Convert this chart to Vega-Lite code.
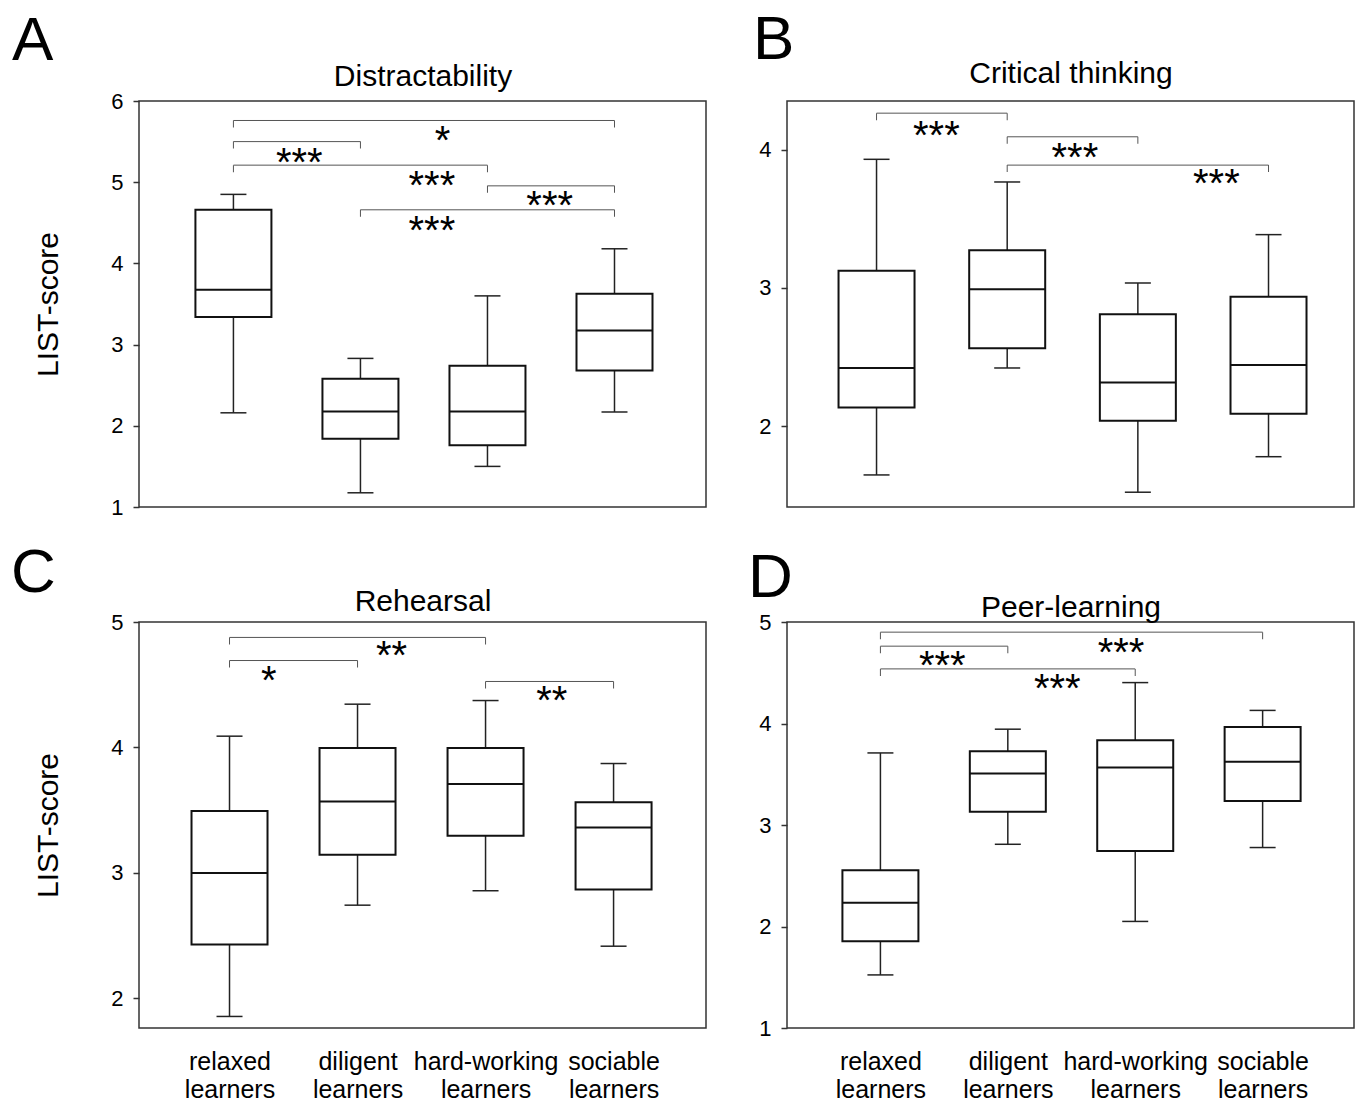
{
  "$schema": "https://vega.github.io/schema/vega-lite/v6.json",
  "padding": {"left": 10, "top": 8, "right": 5, "bottom": 0},
  "bounds": "flush",
  "columns": 2,
  "spacing": {"row": 115, "column": 81},
  "datasets": {
    "boxes": [
      {"panel": "A", "group": 1, "name": "relaxed learners", "lo": 2.16, "q1": 3.34, "med": 3.675, "q3": 4.66, "hi": 4.85},
      {"panel": "A", "group": 2, "name": "diligent learners", "lo": 1.175, "q1": 1.84, "med": 2.175, "q3": 2.58, "hi": 2.83},
      {"panel": "A", "group": 3, "name": "hard-working learners", "lo": 1.5, "q1": 1.76, "med": 2.175, "q3": 2.74, "hi": 3.6},
      {"panel": "A", "group": 4, "name": "sociable learners", "lo": 2.17, "q1": 2.68, "med": 3.175, "q3": 3.625, "hi": 4.18},
      {"panel": "B", "group": 1, "name": "relaxed learners", "lo": 1.646, "q1": 2.134, "med": 2.42, "q3": 3.123, "hi": 3.93},
      {"panel": "B", "group": 2, "name": "diligent learners", "lo": 2.42, "q1": 2.562, "med": 2.989, "q3": 3.272, "hi": 3.766},
      {"panel": "B", "group": 3, "name": "hard-working learners", "lo": 1.521, "q1": 2.039, "med": 2.315, "q3": 2.808, "hi": 3.035},
      {"panel": "B", "group": 4, "name": "sociable learners", "lo": 1.778, "q1": 2.088, "med": 2.442, "q3": 2.935, "hi": 3.385},
      {"panel": "C", "group": 1, "name": "relaxed learners", "lo": 1.856, "q1": 2.43, "med": 3.0, "q3": 3.493, "hi": 4.09},
      {"panel": "C", "group": 2, "name": "diligent learners", "lo": 2.743, "q1": 3.145, "med": 3.57, "q3": 3.995, "hi": 4.345},
      {"panel": "C", "group": 3, "name": "hard-working learners", "lo": 2.858, "q1": 3.297, "med": 3.708, "q3": 3.995, "hi": 4.374},
      {"panel": "C", "group": 4, "name": "sociable learners", "lo": 2.416, "q1": 2.867, "med": 3.363, "q3": 3.564, "hi": 3.872},
      {"panel": "D", "group": 1, "name": "relaxed learners", "lo": 1.523, "q1": 1.854, "med": 2.234, "q3": 2.554, "hi": 3.71},
      {"panel": "D", "group": 2, "name": "diligent learners", "lo": 2.81, "q1": 3.13, "med": 3.507, "q3": 3.727, "hi": 3.944},
      {"panel": "D", "group": 3, "name": "hard-working learners", "lo": 2.05, "q1": 2.743, "med": 3.567, "q3": 3.834, "hi": 4.403},
      {"panel": "D", "group": 4, "name": "sociable learners", "lo": 2.778, "q1": 3.237, "med": 3.624, "q3": 3.966, "hi": 4.129}
    ],
    "brackets": [
      {"panel": "A", "from": 1, "to": 4, "level": 5.76},
      {"panel": "A", "from": 1, "to": 2, "level": 5.5},
      {"panel": "A", "from": 1, "to": 3, "level": 5.21},
      {"panel": "A", "from": 3, "to": 4, "level": 4.955},
      {"panel": "A", "from": 2, "to": 4, "level": 4.66},
      {"panel": "B", "from": 1, "to": 2, "level": 4.264},
      {"panel": "B", "from": 2, "to": 3, "level": 4.093},
      {"panel": "B", "from": 2, "to": 4, "level": 3.888},
      {"panel": "C", "from": 1, "to": 3, "level": 4.877},
      {"panel": "C", "from": 1, "to": 2, "level": 4.693},
      {"panel": "C", "from": 3, "to": 4, "level": 4.526},
      {"panel": "D", "from": 1, "to": 4, "level": 4.9},
      {"panel": "D", "from": 1, "to": 2, "level": 4.762},
      {"panel": "D", "from": 1, "to": 3, "level": 4.538}
    ],
    "stars": [
      {"panel": "A", "sx": 2.647, "sy": 5.6, "label": "*"},
      {"panel": "A", "sx": 1.518, "sy": 5.33, "label": "***"},
      {"panel": "A", "sx": 2.562, "sy": 5.05, "label": "***"},
      {"panel": "A", "sx": 3.49, "sy": 4.8, "label": "***"},
      {"panel": "A", "sx": 2.562, "sy": 4.5, "label": "***"},
      {"panel": "B", "sx": 1.458, "sy": 4.154, "label": "***"},
      {"panel": "B", "sx": 2.518, "sy": 3.995, "label": "***"},
      {"panel": "B", "sx": 3.601, "sy": 3.807, "label": "***"},
      {"panel": "C", "sx": 2.266, "sy": 4.79, "label": "**"},
      {"panel": "C", "sx": 1.307, "sy": 4.59, "label": "*"},
      {"panel": "C", "sx": 3.517, "sy": 4.434, "label": "**"},
      {"panel": "D", "sx": 1.486, "sy": 4.645, "label": "***"},
      {"panel": "D", "sx": 2.889, "sy": 4.77, "label": "***"},
      {"panel": "D", "sx": 2.388, "sy": 4.42, "label": "***"}
    ]
  },
  "concat": [
    {
      "width": 567, "height": 406,
      "title": {"text": "A", "dx": -127, "offset": -12},
      "resolve": {"axis": {"x": "independent", "y": "independent"}},
      "layer": [
        {"data": {"name": "boxes"}, "transform": [{"filter": "datum.panel == 'A'"}],
         "mark": {"type": "rule", "color": "#222", "strokeWidth": 1.5},
         "encoding": {
           "x": {"field": "group", "type": "quantitative", "scale": {"domain": [0.296, 4.681], "nice": false, "zero": false}, "axis": null},
           "y": {"field": "lo", "type": "quantitative", "scale": {"domain": [1, 6], "nice": false, "zero": false}, "axis": {"values": [1, 2, 3, 4, 5, 6], "title": "LIST-score", "labelFontSize": 22}},
           "y2": {"field": "hi"}}},
        {"data": {"name": "boxes"}, "transform": [{"filter": "datum.panel == 'A'"}],
         "mark": {"type": "tick", "orient": "horizontal", "size": 26, "thickness": 1.5, "color": "#222", "opacity": 1},
         "encoding": {
           "x": {"field": "group", "type": "quantitative", "scale": {"domain": [0.296, 4.681], "nice": false, "zero": false}, "axis": null},
           "y": {"field": "lo", "type": "quantitative", "scale": {"domain": [1, 6], "nice": false, "zero": false}, "axis": null}}},
        {"data": {"name": "boxes"}, "transform": [{"filter": "datum.panel == 'A'"}],
         "mark": {"type": "tick", "orient": "horizontal", "size": 26, "thickness": 1.5, "color": "#222", "opacity": 1},
         "encoding": {
           "x": {"field": "group", "type": "quantitative", "scale": {"domain": [0.296, 4.681], "nice": false, "zero": false}, "axis": null},
           "y": {"field": "hi", "type": "quantitative", "scale": {"domain": [1, 6], "nice": false, "zero": false}, "axis": null}}},
        {"data": {"name": "boxes"}, "transform": [{"filter": "datum.panel == 'A'"}],
         "mark": {"type": "bar", "width": 76, "fill": "white", "stroke": "#111", "strokeWidth": 2},
         "encoding": {
           "x": {"field": "group", "type": "quantitative", "scale": {"domain": [0.296, 4.681], "nice": false, "zero": false}, "axis": null},
           "y": {"field": "q1", "type": "quantitative", "scale": {"domain": [1, 6], "nice": false, "zero": false}, "axis": null},
           "y2": {"field": "q3"}}},
        {"data": {"name": "boxes"}, "transform": [{"filter": "datum.panel == 'A'"}],
         "mark": {"type": "tick", "orient": "horizontal", "size": 76, "thickness": 2, "color": "#111", "opacity": 1},
         "encoding": {
           "x": {"field": "group", "type": "quantitative", "scale": {"domain": [0.296, 4.681], "nice": false, "zero": false},
                 "axis": {"orient": "top", "title": "Distractability", "labels": false, "ticks": false, "domain": false, "titlePadding": 10, "titleFontSize": 30}},
           "y": {"field": "med", "type": "quantitative", "scale": {"domain": [1, 6], "nice": false, "zero": false}, "axis": null}}},
        {"data": {"name": "brackets"}, "transform": [{"filter": "datum.panel == 'A'"}],
         "mark": {"type": "rule", "color": "#555", "strokeWidth": 1},
         "encoding": {
           "x": {"field": "from", "type": "quantitative", "scale": {"domain": [0.296, 4.681], "nice": false, "zero": false}, "axis": null},
           "x2": {"field": "to"},
           "y": {"field": "level", "type": "quantitative", "scale": {"domain": [1, 6], "nice": false, "zero": false}, "axis": null}}},
        {"data": {"name": "brackets"}, "transform": [{"filter": "datum.panel == 'A'"}],
         "mark": {"type": "tick", "orient": "vertical", "size": 7, "thickness": 1, "color": "#555", "opacity": 1, "yOffset": 3.5},
         "encoding": {
           "x": {"field": "from", "type": "quantitative", "scale": {"domain": [0.296, 4.681], "nice": false, "zero": false}, "axis": null},
           "y": {"field": "level", "type": "quantitative", "scale": {"domain": [1, 6], "nice": false, "zero": false}, "axis": null}}},
        {"data": {"name": "brackets"}, "transform": [{"filter": "datum.panel == 'A'"}],
         "mark": {"type": "tick", "orient": "vertical", "size": 7, "thickness": 1, "color": "#555", "opacity": 1, "yOffset": 3.5},
         "encoding": {
           "x": {"field": "to", "type": "quantitative", "scale": {"domain": [0.296, 4.681], "nice": false, "zero": false}, "axis": null},
           "y": {"field": "level", "type": "quantitative", "scale": {"domain": [1, 6], "nice": false, "zero": false}, "axis": null}}},
        {"data": {"name": "stars"}, "transform": [{"filter": "datum.panel == 'A'"}],
         "mark": {"type": "text", "fontSize": 40, "font": "Liberation Sans", "baseline": "alphabetic", "align": "center", "dy": 21, "color": "#000"},
         "encoding": {
           "x": {"field": "sx", "type": "quantitative", "scale": {"domain": [0.296, 4.681], "nice": false, "zero": false}, "axis": null},
           "y": {"field": "sy", "type": "quantitative", "scale": {"domain": [1, 6], "nice": false, "zero": false}, "axis": null},
           "text": {"field": "label"}}}
      ]
    },
    {
      "width": 567, "height": 406,
      "title": {"text": "B", "dx": -34, "offset": -14},
      "resolve": {"axis": {"x": "independent", "y": "independent"}},
      "layer": [
        {"data": {"name": "boxes"}, "transform": [{"filter": "datum.panel == 'B'"}],
         "mark": {"type": "rule", "color": "#222", "strokeWidth": 1.5},
         "encoding": {
           "x": {"field": "group", "type": "quantitative", "scale": {"domain": [0.353, 4.616], "nice": false, "zero": false}, "axis": null},
           "y": {"field": "lo", "type": "quantitative", "scale": {"domain": [1.414, 4.352], "nice": false, "zero": false}, "axis": {"values": [2, 3, 4], "title": null, "labelFontSize": 22}},
           "y2": {"field": "hi"}}},
        {"data": {"name": "boxes"}, "transform": [{"filter": "datum.panel == 'B'"}],
         "mark": {"type": "tick", "orient": "horizontal", "size": 26, "thickness": 1.5, "color": "#222", "opacity": 1},
         "encoding": {
           "x": {"field": "group", "type": "quantitative", "scale": {"domain": [0.353, 4.616], "nice": false, "zero": false}, "axis": null},
           "y": {"field": "lo", "type": "quantitative", "scale": {"domain": [1.414, 4.352], "nice": false, "zero": false}, "axis": null}}},
        {"data": {"name": "boxes"}, "transform": [{"filter": "datum.panel == 'B'"}],
         "mark": {"type": "tick", "orient": "horizontal", "size": 26, "thickness": 1.5, "color": "#222", "opacity": 1},
         "encoding": {
           "x": {"field": "group", "type": "quantitative", "scale": {"domain": [0.353, 4.616], "nice": false, "zero": false}, "axis": null},
           "y": {"field": "hi", "type": "quantitative", "scale": {"domain": [1.414, 4.352], "nice": false, "zero": false}, "axis": null}}},
        {"data": {"name": "boxes"}, "transform": [{"filter": "datum.panel == 'B'"}],
         "mark": {"type": "bar", "width": 76, "fill": "white", "stroke": "#111", "strokeWidth": 2},
         "encoding": {
           "x": {"field": "group", "type": "quantitative", "scale": {"domain": [0.353, 4.616], "nice": false, "zero": false}, "axis": null},
           "y": {"field": "q1", "type": "quantitative", "scale": {"domain": [1.414, 4.352], "nice": false, "zero": false}, "axis": null},
           "y2": {"field": "q3"}}},
        {"data": {"name": "boxes"}, "transform": [{"filter": "datum.panel == 'B'"}],
         "mark": {"type": "tick", "orient": "horizontal", "size": 76, "thickness": 2, "color": "#111", "opacity": 1},
         "encoding": {
           "x": {"field": "group", "type": "quantitative", "scale": {"domain": [0.353, 4.616], "nice": false, "zero": false},
                 "axis": {"orient": "top", "title": "Critical thinking", "labels": false, "ticks": false, "domain": false, "titlePadding": 13, "titleFontSize": 30}},
           "y": {"field": "med", "type": "quantitative", "scale": {"domain": [1.414, 4.352], "nice": false, "zero": false}, "axis": null}}},
        {"data": {"name": "brackets"}, "transform": [{"filter": "datum.panel == 'B'"}],
         "mark": {"type": "rule", "color": "#555", "strokeWidth": 1},
         "encoding": {
           "x": {"field": "from", "type": "quantitative", "scale": {"domain": [0.353, 4.616], "nice": false, "zero": false}, "axis": null},
           "x2": {"field": "to"},
           "y": {"field": "level", "type": "quantitative", "scale": {"domain": [1.414, 4.352], "nice": false, "zero": false}, "axis": null}}},
        {"data": {"name": "brackets"}, "transform": [{"filter": "datum.panel == 'B'"}],
         "mark": {"type": "tick", "orient": "vertical", "size": 7, "thickness": 1, "color": "#555", "opacity": 1, "yOffset": 3.5},
         "encoding": {
           "x": {"field": "from", "type": "quantitative", "scale": {"domain": [0.353, 4.616], "nice": false, "zero": false}, "axis": null},
           "y": {"field": "level", "type": "quantitative", "scale": {"domain": [1.414, 4.352], "nice": false, "zero": false}, "axis": null}}},
        {"data": {"name": "brackets"}, "transform": [{"filter": "datum.panel == 'B'"}],
         "mark": {"type": "tick", "orient": "vertical", "size": 7, "thickness": 1, "color": "#555", "opacity": 1, "yOffset": 3.5},
         "encoding": {
           "x": {"field": "to", "type": "quantitative", "scale": {"domain": [0.353, 4.616], "nice": false, "zero": false}, "axis": null},
           "y": {"field": "level", "type": "quantitative", "scale": {"domain": [1.414, 4.352], "nice": false, "zero": false}, "axis": null}}},
        {"data": {"name": "stars"}, "transform": [{"filter": "datum.panel == 'B'"}],
         "mark": {"type": "text", "fontSize": 40, "font": "Liberation Sans", "baseline": "alphabetic", "align": "center", "dy": 21, "color": "#000"},
         "encoding": {
           "x": {"field": "sx", "type": "quantitative", "scale": {"domain": [0.353, 4.616], "nice": false, "zero": false}, "axis": null},
           "y": {"field": "sy", "type": "quantitative", "scale": {"domain": [1.414, 4.352], "nice": false, "zero": false}, "axis": null},
           "text": {"field": "label"}}}
      ]
    },
    {
      "width": 567, "height": 406,
      "title": {"text": "C", "dx": -128, "offset": -19},
      "resolve": {"axis": {"x": "independent", "y": "independent"}},
      "layer": [
        {"data": {"name": "boxes"}, "transform": [{"filter": "datum.panel == 'C'"}],
         "mark": {"type": "rule", "color": "#222", "strokeWidth": 1.5},
         "encoding": {
           "x": {"field": "group", "type": "quantitative", "scale": {"domain": [0.332, 4.683], "nice": false, "zero": false},
                 "axis": {"values": [1, 2, 3, 4], "title": null, "ticks": false, "domain": false, "labelFlush": false, "labelOverlap": false, "labelFontSize": 25, "labelLineHeight": 28.5, "labelPadding": 21,
                          "labelExpr": "split(['', 'relaxed learners', 'diligent learners', 'hard-working learners', 'sociable learners'][datum.value], ' ')"}},
           "y": {"field": "lo", "type": "quantitative", "scale": {"domain": [1.764, 5], "nice": false, "zero": false}, "axis": {"values": [2, 3, 4, 5], "title": "LIST-score", "labelFontSize": 22}},
           "y2": {"field": "hi"}}},
        {"data": {"name": "boxes"}, "transform": [{"filter": "datum.panel == 'C'"}],
         "mark": {"type": "tick", "orient": "horizontal", "size": 26, "thickness": 1.5, "color": "#222", "opacity": 1},
         "encoding": {
           "x": {"field": "group", "type": "quantitative", "scale": {"domain": [0.332, 4.683], "nice": false, "zero": false}, "axis": null},
           "y": {"field": "lo", "type": "quantitative", "scale": {"domain": [1.764, 5], "nice": false, "zero": false}, "axis": null}}},
        {"data": {"name": "boxes"}, "transform": [{"filter": "datum.panel == 'C'"}],
         "mark": {"type": "tick", "orient": "horizontal", "size": 26, "thickness": 1.5, "color": "#222", "opacity": 1},
         "encoding": {
           "x": {"field": "group", "type": "quantitative", "scale": {"domain": [0.332, 4.683], "nice": false, "zero": false}, "axis": null},
           "y": {"field": "hi", "type": "quantitative", "scale": {"domain": [1.764, 5], "nice": false, "zero": false}, "axis": null}}},
        {"data": {"name": "boxes"}, "transform": [{"filter": "datum.panel == 'C'"}],
         "mark": {"type": "bar", "width": 76, "fill": "white", "stroke": "#111", "strokeWidth": 2},
         "encoding": {
           "x": {"field": "group", "type": "quantitative", "scale": {"domain": [0.332, 4.683], "nice": false, "zero": false}, "axis": null},
           "y": {"field": "q1", "type": "quantitative", "scale": {"domain": [1.764, 5], "nice": false, "zero": false}, "axis": null},
           "y2": {"field": "q3"}}},
        {"data": {"name": "boxes"}, "transform": [{"filter": "datum.panel == 'C'"}],
         "mark": {"type": "tick", "orient": "horizontal", "size": 76, "thickness": 2, "color": "#111", "opacity": 1},
         "encoding": {
           "x": {"field": "group", "type": "quantitative", "scale": {"domain": [0.332, 4.683], "nice": false, "zero": false},
                 "axis": {"orient": "top", "title": "Rehearsal", "labels": false, "ticks": false, "domain": false, "titlePadding": 6, "titleFontSize": 30}},
           "y": {"field": "med", "type": "quantitative", "scale": {"domain": [1.764, 5], "nice": false, "zero": false}, "axis": null}}},
        {"data": {"name": "brackets"}, "transform": [{"filter": "datum.panel == 'C'"}],
         "mark": {"type": "rule", "color": "#555", "strokeWidth": 1},
         "encoding": {
           "x": {"field": "from", "type": "quantitative", "scale": {"domain": [0.332, 4.683], "nice": false, "zero": false}, "axis": null},
           "x2": {"field": "to"},
           "y": {"field": "level", "type": "quantitative", "scale": {"domain": [1.764, 5], "nice": false, "zero": false}, "axis": null}}},
        {"data": {"name": "brackets"}, "transform": [{"filter": "datum.panel == 'C'"}],
         "mark": {"type": "tick", "orient": "vertical", "size": 7, "thickness": 1, "color": "#555", "opacity": 1, "yOffset": 3.5},
         "encoding": {
           "x": {"field": "from", "type": "quantitative", "scale": {"domain": [0.332, 4.683], "nice": false, "zero": false}, "axis": null},
           "y": {"field": "level", "type": "quantitative", "scale": {"domain": [1.764, 5], "nice": false, "zero": false}, "axis": null}}},
        {"data": {"name": "brackets"}, "transform": [{"filter": "datum.panel == 'C'"}],
         "mark": {"type": "tick", "orient": "vertical", "size": 7, "thickness": 1, "color": "#555", "opacity": 1, "yOffset": 3.5},
         "encoding": {
           "x": {"field": "to", "type": "quantitative", "scale": {"domain": [0.332, 4.683], "nice": false, "zero": false}, "axis": null},
           "y": {"field": "level", "type": "quantitative", "scale": {"domain": [1.764, 5], "nice": false, "zero": false}, "axis": null}}},
        {"data": {"name": "stars"}, "transform": [{"filter": "datum.panel == 'C'"}],
         "mark": {"type": "text", "fontSize": 40, "font": "Liberation Sans", "baseline": "alphabetic", "align": "center", "dy": 21, "color": "#000"},
         "encoding": {
           "x": {"field": "sx", "type": "quantitative", "scale": {"domain": [0.332, 4.683], "nice": false, "zero": false}, "axis": null},
           "y": {"field": "sy", "type": "quantitative", "scale": {"domain": [1.764, 5], "nice": false, "zero": false}, "axis": null},
           "text": {"field": "label"}}}
      ]
    },
    {
      "width": 567, "height": 406,
      "title": {"text": "D", "dx": -39, "offset": -18},
      "resolve": {"axis": {"x": "independent", "y": "independent"}},
      "layer": [
        {"data": {"name": "boxes"}, "transform": [{"filter": "datum.panel == 'D'"}],
         "mark": {"type": "rule", "color": "#222", "strokeWidth": 1.5},
         "encoding": {
           "x": {"field": "group", "type": "quantitative", "scale": {"domain": [0.306, 4.678], "nice": false, "zero": false},
                 "axis": {"values": [1, 2, 3, 4], "title": null, "ticks": false, "domain": false, "labelFlush": false, "labelOverlap": false, "labelFontSize": 25, "labelLineHeight": 28.5, "labelPadding": 21,
                          "labelExpr": "split(['', 'relaxed learners', 'diligent learners', 'hard-working learners', 'sociable learners'][datum.value], ' ')"}},
           "y": {"field": "lo", "type": "quantitative", "scale": {"domain": [1, 5], "nice": false, "zero": false}, "axis": {"values": [1, 2, 3, 4, 5], "title": null, "labelFontSize": 22}},
           "y2": {"field": "hi"}}},
        {"data": {"name": "boxes"}, "transform": [{"filter": "datum.panel == 'D'"}],
         "mark": {"type": "tick", "orient": "horizontal", "size": 26, "thickness": 1.5, "color": "#222", "opacity": 1},
         "encoding": {
           "x": {"field": "group", "type": "quantitative", "scale": {"domain": [0.306, 4.678], "nice": false, "zero": false}, "axis": null},
           "y": {"field": "lo", "type": "quantitative", "scale": {"domain": [1, 5], "nice": false, "zero": false}, "axis": null}}},
        {"data": {"name": "boxes"}, "transform": [{"filter": "datum.panel == 'D'"}],
         "mark": {"type": "tick", "orient": "horizontal", "size": 26, "thickness": 1.5, "color": "#222", "opacity": 1},
         "encoding": {
           "x": {"field": "group", "type": "quantitative", "scale": {"domain": [0.306, 4.678], "nice": false, "zero": false}, "axis": null},
           "y": {"field": "hi", "type": "quantitative", "scale": {"domain": [1, 5], "nice": false, "zero": false}, "axis": null}}},
        {"data": {"name": "boxes"}, "transform": [{"filter": "datum.panel == 'D'"}],
         "mark": {"type": "bar", "width": 76, "fill": "white", "stroke": "#111", "strokeWidth": 2},
         "encoding": {
           "x": {"field": "group", "type": "quantitative", "scale": {"domain": [0.306, 4.678], "nice": false, "zero": false}, "axis": null},
           "y": {"field": "q1", "type": "quantitative", "scale": {"domain": [1, 5], "nice": false, "zero": false}, "axis": null},
           "y2": {"field": "q3"}}},
        {"data": {"name": "boxes"}, "transform": [{"filter": "datum.panel == 'D'"}],
         "mark": {"type": "tick", "orient": "horizontal", "size": 76, "thickness": 2, "color": "#111", "opacity": 1},
         "encoding": {
           "x": {"field": "group", "type": "quantitative", "scale": {"domain": [0.306, 4.678], "nice": false, "zero": false},
                 "axis": {"orient": "top", "title": "Peer-learning", "labels": false, "ticks": false, "domain": false, "titlePadding": 0, "titleFontSize": 30}},
           "y": {"field": "med", "type": "quantitative", "scale": {"domain": [1, 5], "nice": false, "zero": false}, "axis": null}}},
        {"data": {"name": "brackets"}, "transform": [{"filter": "datum.panel == 'D'"}],
         "mark": {"type": "rule", "color": "#555", "strokeWidth": 1},
         "encoding": {
           "x": {"field": "from", "type": "quantitative", "scale": {"domain": [0.306, 4.678], "nice": false, "zero": false}, "axis": null},
           "x2": {"field": "to"},
           "y": {"field": "level", "type": "quantitative", "scale": {"domain": [1, 5], "nice": false, "zero": false}, "axis": null}}},
        {"data": {"name": "brackets"}, "transform": [{"filter": "datum.panel == 'D'"}],
         "mark": {"type": "tick", "orient": "vertical", "size": 7, "thickness": 1, "color": "#555", "opacity": 1, "yOffset": 3.5},
         "encoding": {
           "x": {"field": "from", "type": "quantitative", "scale": {"domain": [0.306, 4.678], "nice": false, "zero": false}, "axis": null},
           "y": {"field": "level", "type": "quantitative", "scale": {"domain": [1, 5], "nice": false, "zero": false}, "axis": null}}},
        {"data": {"name": "brackets"}, "transform": [{"filter": "datum.panel == 'D'"}],
         "mark": {"type": "tick", "orient": "vertical", "size": 7, "thickness": 1, "color": "#555", "opacity": 1, "yOffset": 3.5},
         "encoding": {
           "x": {"field": "to", "type": "quantitative", "scale": {"domain": [0.306, 4.678], "nice": false, "zero": false}, "axis": null},
           "y": {"field": "level", "type": "quantitative", "scale": {"domain": [1, 5], "nice": false, "zero": false}, "axis": null}}},
        {"data": {"name": "stars"}, "transform": [{"filter": "datum.panel == 'D'"}],
         "mark": {"type": "text", "fontSize": 40, "font": "Liberation Sans", "baseline": "alphabetic", "align": "center", "dy": 21, "color": "#000"},
         "encoding": {
           "x": {"field": "sx", "type": "quantitative", "scale": {"domain": [0.306, 4.678], "nice": false, "zero": false}, "axis": null},
           "y": {"field": "sy", "type": "quantitative", "scale": {"domain": [1, 5], "nice": false, "zero": false}, "axis": null},
           "text": {"field": "label"}}}
      ]
    }
  ],
  "config": {
    "font": "Liberation Sans",
    "view": {"stroke": "#333", "strokeWidth": 1.5},
    "axis": {"grid": false, "labelFont": "Liberation Sans", "titleFont": "Liberation Sans", "labelColor": "#000", "titleColor": "#000", "titleFontWeight": "normal", "tickColor": "#333", "domain": false},
    "axisY": {"tickSize": 6, "tickWidth": 1.5, "labelFontSize": 22, "labelPadding": 10, "titleFontSize": 30, "titlePadding": 47, "labelFlush": false},
    "title": {"fontSize": 62, "fontWeight": "normal", "color": "#000", "anchor": "start", "frame": "group", "baseline": "alphabetic", "font": "Liberation Sans"}
  }
}
